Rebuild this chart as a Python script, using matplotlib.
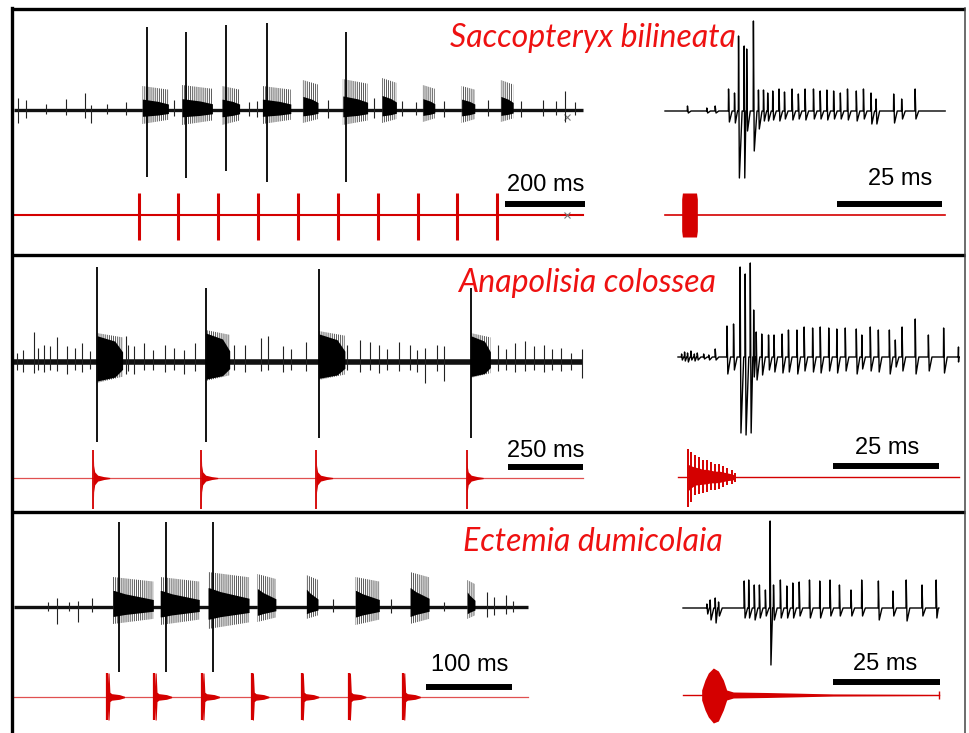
import numpy as np
import matplotlib
matplotlib.use('Agg')
import matplotlib.pyplot as plt

plt.rcParams['hatch.linewidth'] = 0.6

W, H = 970, 733
RED = '#d40000'
TITLE_RED = '#ee1111'

# ---------------- Saccopteryx bilineata ----------------
# long recording (ms / amplitude in a.u. relative to baseline)
sac_end = 1422
sac_stim_t = [312, 411, 511, 611, 711, 810, 910, 1009, 1108, 1207]
sac_stim_up = [22, 22, 22, 22, 22, 22, 22, 22, 22, 22]
sac_stim_dn = [25, 25, 25, 25, 25, 25, 25, 25, 25, 25]
sac_big_t = [332, 431, 530, 632, 829]
sac_big_up = [83, 78, 85, 87, 78]
sac_big_dn = [67, 68, 61, 72, 72]
sac_burst_t0 = [321, 420, 520, 621, 722, 822, 920, 1022, 1119, 1217]
sac_burst_t1 = [386, 496, 564, 692, 760, 884, 956, 1052, 1152, 1248]
sac_burst_up = [24, 25, 24, 24, 30, 31, 32, 25, 24, 30]
sac_burst_dn = [14, 15, 15, 14, 13, 15, 13, 12, 13, 12]
sac_spk_t = [11, 30, 80, 130, 178, 192, 233, 281, 401, 588, 607, 784, 899, 971,
             1004, 1076, 1186, 1268, 1323, 1356, 1378, 1402]
sac_spk_up = [12, 10, 6, 11, 17, 5, 6, 8, 10, 8, 9, 10, 12, 9, 8, 9, 10, 9, 10, 9, 19, 8]
sac_spk_dn = [13, 8, 4, 5, 8, 13, 4, 5, 6, 6, 7, 8, 8, 6, 5, 7, 6, 7, 6, 5, 12, 5]
# zoomed recording
sac_z_end = 66.7
sac_z_stim_t = [3.97, 4.15, 7.5, 7.7]
sac_z_stim_amp = [16, 22, 22, 16]
sac_z_spk_t = [5.3, 9.9, 11.9, 15.08, 16.5, 17.46, 18.8, 19.4, 21.0, 22.2, 23.4, 24.4,
               25.6, 27.1, 28.4, 30.2, 31.7, 33.3, 35.3, 36.9, 38.5, 40.1, 41.7, 43.4,
               45.5, 47.2, 49.0, 50.2, 54.4, 56.3, 59.5]
sac_z_spk_up = [5, 3, 5, 22, 18, 75, 65, 62, 90, 21, 21, 18, 20, 22, 19, 22, 17, 22, 22,
                20, 21, 20, 18, 22, 20, 22, 18, 12, 17, 12, 22]
sac_z_spk_dn = [2, 2, 2, 11, 12, 67, 67, 20, 40, 18, 10, 10, 9, 10, 8, 9, 8, 9, 8, 8, 9,
                8, 8, 9, 10, 8, 13, 13, 12, 8, 8]

# ---------------- Anapolisia colossea ----------------
ana_end = 1897
ana_stim_t = [264, 624, 1007, 1509]
ana_stim_up = [28, 28, 28, 28]
ana_stim_dn = [31, 31, 31, 31]
ana_stim_env_dt = [0, 1.5, 5, 15, 35, 55]
ana_stim_env = [1.0, 0.45, 0.22, 0.1, 0.05, 0.02]
ana_big_t = [276, 639, 1016, 1522]
ana_big_up = [95, 74, 93, 74]
ana_big_dn = [80, 80, 76, 76]
ana_burst_t0 = [276, 639, 1016, 1522]
ana_burst_t1 = [362, 719, 1103, 1588]
ana_burst_up = [29, 32, 31, 29]
ana_burst_dn = [21, 19, 18, 16]
ana_spk_t = [10.8, 30, 65.7, 81, 100, 119, 145, 177, 202, 228, 253, 372, 381, 400, 432,
             464, 502, 534, 566, 605, 732, 771, 822, 847, 898, 924, 975, 1109, 1154, 1186,
             1218, 1243, 1282, 1320, 1345, 1371, 1409, 1435, 1614, 1639, 1671, 1703,
             1735, 1767, 1793, 1824, 1856, 1895]
ana_spk_up = [9, 12, 30, 14, 17, 16, 25, 16, 14, 19, 11, 26, 17, 16, 19, 12, 17, 14, 12,
              19, 17, 17, 24, 26, 16, 13, 20, 17, 22, 20, 17, 13, 20, 17, 12, 14, 17, 16,
              17, 13, 19, 21, 16, 17, 13, 14, 9, 13]
ana_spk_dn = [8, 10, 11, 8, 10, 8, 9, 12, 8, 10, 7, 12, 9, 12, 8, 8, 10, 8, 12, 9, 8, 10,
              9, 8, 10, 8, 9, 8, 10, 8, 11, 8, 9, 8, 10, 21, 9, 19, 9, 8, 10, 9, 8, 10, 8,
              9, 8, 16]
ana_z_end = 66.3
ana_z_stim_t = [2.44, 2.99, 4.01, 4.95, 5.82, 6.76, 7.70, 8.73, 9.75, 10.69, 11.64,
                12.66, 13.44]
ana_z_stim_up = [28, 25, 22, 20, 17, 17, 15, 13, 13, 11, 9, 7, 4]
ana_z_stim_dn = [30, 25, 18, 17, 16, 15, 13, 13, 12, 10, 8, 7, 5]
ana_z_spk_t = [0.8, 1.5, 2.2, 3.0, 3.8, 4.5, 6.0, 7.2, 8.73, 11.5, 13.05, 14.6, 15.8,
               17.0, 17.8, 18.4, 19.7, 21.3, 22.6, 24.5, 26.0, 28.0, 29.7, 31.7, 33.5,
               35.5, 37.4, 39.4, 42.0, 43.3, 45.3, 47.2, 49.8, 51.2, 52.8, 55.9, 59.0,
               62.6, 66.1]
ana_z_spk_up = [3, 5, 4, 6, 3, 4, 3, 2, 8, 31, 33, 90, 83, 94, 47, 25, 23, 22, 22, 23,
                27, 27, 30, 29, 30, 29, 28, 29, 28, 22, 30, 27, 27, 17, 30, 38, 22, 29, 10]
ana_z_spk_dn = [3, 4, 5, 3, 4, 3, 2, 3, 3, 17, 13, 76, 78, 76, 20, 23, 18, 13, 15, 16,
                15, 17, 14, 15, 16, 14, 16, 14, 17, 12, 14, 15, 17, 10, 14, 17, 14, 16, 5]

# ---------------- Ectemia dumicolaia ----------------
ect_end = 598
ect_stim_t = [108.5, 163.3, 218.9, 276.4, 334.4, 389.2, 452.4]
ect_stim_up = [24, 24, 24, 24, 24, 24, 24]
ect_stim_dn = [23, 23, 23, 23, 23, 23, 23]
ect_stim_env_dt = [0, 0.8, 2.0, 3.0, 5, 14, 20]
ect_stim_env = [0.4, 1.0, 1.0, 0.2, 0.14, 0.1, 0.03]
ect_big_t = [121.8, 176.2, 231.9]
ect_big_up = [85, 85, 85]
ect_big_dn = [65, 65, 65]
ect_burst_t0 = [115, 170, 225.6, 283, 340, 397, 460.5, 527]
ect_burst_t1 = [162, 215.4, 273.3, 304.5, 353.5, 424.8, 482.7, 536]
ect_burst_up = [30, 30, 35, 33, 32, 30, 35, 27]
ect_burst_dn = [17, 18, 22, 15, 12, 18, 17, 12]
ect_spk_t = [39.4, 50.5, 63.9, 75, 90.6, 371, 438, 500, 549.5, 558.5, 571.8, 580.7]
ect_spk_up = [5, 9, 5, 6, 9, 8, 8, 5, 15, 10, 12, 6]
ect_spk_dn = [4, 17, 4, 15, 5, 5, 6, 4, 10, 8, 7, 5]
ect_z_end = 59.8
ect_z_stim_t = [4.36, 5.14, 5.92, 7.09, 8.26, 9.42, 10.2, 11.76, 19.55, 27.3, 35.1, 59.8]
ect_z_stim_up = [5, 15, 22, 27, 24, 15, 5, 3, 2.5, 1.8, 1, 0.5]
ect_z_stim_dn = [5, 15, 22, 28, 26, 15, 5, 3, 2.5, 1.8, 1, 0.5]
ect_z_spk_t = [5.53, 6.3, 7.48, 8.26, 14.25, 15.3, 16.6, 17.8, 19.2, 20.3, 21.1, 22.7,
               24.2, 25.6, 27.1, 29.5, 31.9, 34.3, 36.5, 39.2, 41.7, 45.6, 49.0, 52.1,
               55.8, 59.1]
ect_z_spk_up = [4, 8, 10, 6, 27, 28, 23, 23, 18, 87, 23, 28, 22, 25, 26, 28, 27, 28, 23,
                18, 28, 27, 17, 28, 23, 28]
ect_z_spk_dn = [6, 12, 15, 8, 10, 10, 12, 10, 8, 57, 12, 10, 10, 10, 8, 10, 10, 8, 8, 8,
                8, 12, 8, 13, 8, 10]

species = ['Saccopteryx bilineata', 'Anapolisia colossea', 'Ectemia dumicolaia']
bar_labels = [('200 ms', '25 ms'), ('250 ms', '25 ms'), ('100 ms', '25 ms')]


def trace_axes(fig, px_left, px_right, py_top, py_bottom, px0, px_per_ms, py_base):
    ax = fig.add_axes([px_left / W, 1 - py_bottom / H,
                       (px_right - px_left) / W, (py_bottom - py_top) / H])
    ax.set_xlim((px_left - px0) / px_per_ms, (px_right - px0) / px_per_ms)
    ax.set_ylim(-(py_bottom - py_base), py_base - py_top)
    ax.axis('off')
    return ax


def long_trace(ax, end, bursts, big, spk, base_lw, core):
    ax.plot([0, end], [0, 0], color='#111111', lw=base_lw, solid_capstyle='butt', zorder=2)
    frac, amp, tail = core
    for t0, t1, up, dn in zip(*bursts):
        d = t1 - t0
        # sparse spikes of the burst
        ax.fill_between([t0, t1], [-dn, -dn * 0.7], [up, up * 0.85], facecolor='none',
                        edgecolor='#404040', hatch='||||||||', linewidth=0, zorder=2)
        # dense part of the burst
        x = [t0, t0 + d * 0.03, t0 + d * frac, t1]
        a = np.array([amp, amp, amp * 0.8, tail])
        ax.fill_between(x, -dn * a, up * a, color='black', linewidth=0, zorder=3)
    t, up, dn = spk
    ax.vlines(t, -np.array(dn), up, color='#222222', lw=0.8, zorder=3)
    t, up, dn = big
    ax.vlines(t, -np.array(dn), up, color='black', lw=1.3, zorder=4)


def long_stim(ax, end, offset, t, up, dn, env_dt=None, env=None, lw_base=1.2,
              base_color=RED, lw=2.2):
    ax.plot([0, end], [offset, offset], color=base_color, lw=lw_base, zorder=2)
    ax.vlines(t, offset - np.array(dn), offset + np.array(up), color=RED, lw=lw, zorder=3)
    if env_dt is not None:
        for ti, a, b in zip(t, up, dn):
            x = ti + np.array(env_dt)
            ax.fill_between(x, offset - b * np.array(env), offset + a * np.array(env),
                            color=RED, linewidth=0, zorder=3)


def spike_wave(end, t, up, dn):
    xs, ys = [0.0], [0.0]
    for i, (ti, a, b) in enumerate(zip(t, up, dn)):
        nxt = t[i + 1] if i + 1 < len(t) else end
        w = min(0.9, (nxt - ti) * 0.8)
        xs += [ti, ti + 0.05, ti + min(0.25, w * 0.4), ti + w]
        ys += [0, a, -b, 0]
    xs.append(end)
    ys.append(0)
    return xs, ys


def scale_bar(ax, t0, length, y, label, tx, ty):
    ax.plot([t0, t0 + length], [y, y], color='black', lw=4.3, solid_capstyle='butt')
    ax.text(tx, ty, label, ha='center', va='center', fontsize=17,
            family=['Liberation Sans', 'DejaVu Sans'])


fig = plt.figure(figsize=(W / 100, H / 100), dpi=100)
fig.patch.set_facecolor('white')

# ---- panel 1 ----
ax = trace_axes(fig, 14, 600, 11, 253, 14, 0.4, 110)
long_trace(ax, sac_end,
           (sac_burst_t0, sac_burst_t1, sac_burst_up, sac_burst_dn),
           (sac_big_t, sac_big_up, sac_big_dn),
           (sac_spk_t, sac_spk_up, sac_spk_dn), 2.4, (0.6, 0.45, 0.25))
long_stim(ax, sac_end, -105, sac_stim_t, sac_stim_up, sac_stim_dn, lw_base=1.5)
ax.plot([1382, 1382], [-7, -105], ls='none', marker='x', ms=5, mew=0.8, color='#777777')
scale_bar(ax, 1228, 200, -94, bar_labels[0][0], 1328, -75)

ax = trace_axes(fig, 600, 963, 11, 253, 665, 4.2, 111)
xs, ys = spike_wave(sac_z_end, sac_z_spk_t, sac_z_spk_up, sac_z_spk_dn)
ax.plot(xs, ys, color='black', lw=1.0)
ax.plot([0, sac_z_end], [-104, -104], color=RED, lw=1.2)
ax.fill_between(sac_z_stim_t, -104 - np.array(sac_z_stim_amp),
                -104 + np.array(sac_z_stim_amp), color=RED, linewidth=0)
scale_bar(ax, 41, 25, -93, bar_labels[0][1], 56, -68)

# ---- panel 2 ----
ax = trace_axes(fig, 14, 600, 257, 510, 14, 0.3, 362)
long_trace(ax, ana_end,
           (ana_burst_t0, ana_burst_t1, ana_burst_up, ana_burst_dn),
           (ana_big_t, ana_big_up, ana_big_dn),
           (ana_spk_t, ana_spk_up, ana_spk_dn), 4.0, (0.7, 0.9, 0.35))
long_stim(ax, ana_end, -116, ana_stim_t, ana_stim_up, ana_stim_dn,
          ana_stim_env_dt, ana_stim_env, lw_base=0.9, base_color='#e05050', lw=1.3)
scale_bar(ax, 1647, 250, -105, bar_labels[1][0], 1773, -89)

ax = trace_axes(fig, 600, 963, 257, 510, 678, 4.24, 357)
xs, ys = spike_wave(ana_z_end, ana_z_spk_t, ana_z_spk_up, ana_z_spk_dn)
ax.plot(xs, ys, color='black', lw=1.0)
ax.plot([0, ana_z_end], [-120, -120], color=RED, lw=1.0)
ax.vlines(ana_z_stim_t, -120 - np.array(ana_z_stim_dn), -120 + np.array(ana_z_stim_up),
          color=RED, lw=1.4)
ax.fill_between(ana_z_stim_t, -120 - 0.45 * np.array(ana_z_stim_dn),
                -120 + 0.45 * np.array(ana_z_stim_up), color=RED, linewidth=0)
scale_bar(ax, 36.6, 25, -109, bar_labels[1][1], 49.3, -91)

# ---- panel 3 ----
ax = trace_axes(fig, 14, 600, 514, 733, 14, 0.86, 607)
long_trace(ax, ect_end,
           (ect_burst_t0, ect_burst_t1, ect_burst_up, ect_burst_dn),
           (ect_big_t, ect_big_up, ect_big_dn),
           (ect_spk_t, ect_spk_up, ect_spk_dn), 2.4, (0.3, 0.55, 0.25))
long_stim(ax, ect_end, -90, ect_stim_t, ect_stim_up, ect_stim_dn,
          ect_stim_env_dt, ect_stim_env, lw_base=0.9, base_color='#e05050', lw=1.6)
scale_bar(ax, 479, 100, -80, bar_labels[2][0], 530, -58)

ax = trace_axes(fig, 600, 963, 514, 733, 683, 4.28, 608)
xs, ys = spike_wave(ect_z_end, ect_z_spk_t, ect_z_spk_up, ect_z_spk_dn)
ax.plot(xs, ys, color='black', lw=1.0)
ax.plot([0, ect_z_end], [-87, -87], color=RED, lw=1.0)
ax.fill_between(ect_z_stim_t, -87 - np.array(ect_z_stim_dn), -87 + np.array(ect_z_stim_up),
                color=RED, linewidth=0)
ax.vlines([ect_z_end], -91, -83, color=RED, lw=1.0)
scale_bar(ax, 35, 25, -74, bar_labels[2][1], 47.2, -56)

# ---- frames and species names ----
fr = fig.add_axes([0, 0, 1, 1])
fr.set_xlim(0, W)
fr.set_ylim(H, 0)
fr.axis('off')
for y in [9, 255, 512]:
    fr.plot([11, 965], [y, y], color='black', lw=2.4, solid_capstyle='butt')
fr.plot([12, 12], [8, H], color='black', lw=2.4)
fr.plot([965, 965], [8, H], color='#444444', lw=1.1)
for name, (cx, cy) in zip(species, [(593, 38), (587, 283), (593, 542)]):
    fr.text(cx, cy, name, color=TITLE_RED, fontsize=23, style='italic',
            family=['Lato', 'DejaVu Sans'], ha='center', va='center')

fig.savefig('out.png', dpi=100)
